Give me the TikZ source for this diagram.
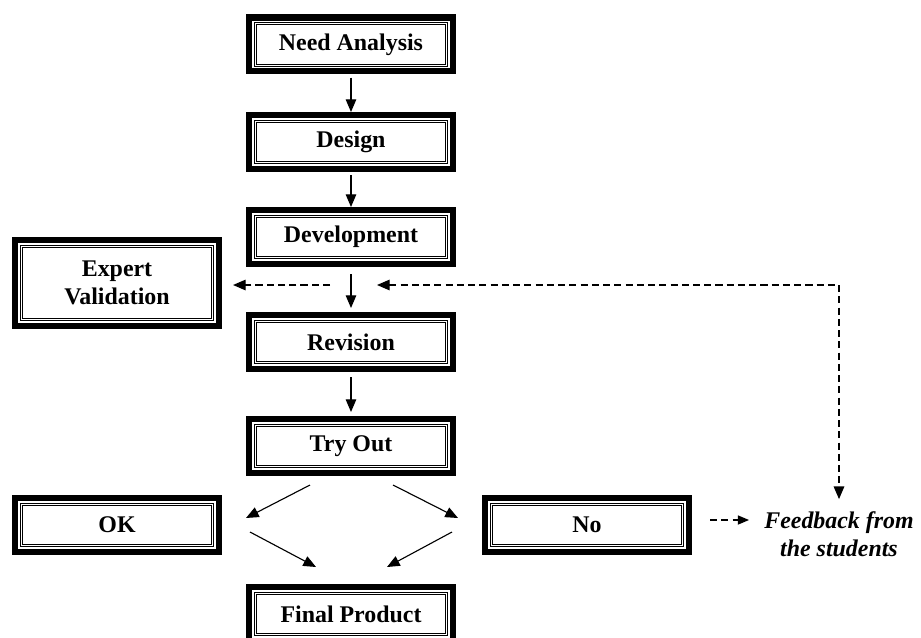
\documentclass[tikz,border=0pt]{standalone}
\usepackage{fontspec}
\setmainfont{Liberation Serif}
\usetikzlibrary{arrows.meta}

\begin{document}
\begin{tikzpicture}[
    stage/.style={draw, line width=4.6pt, inner sep=0pt,
      minimum width=5.09cm, minimum height=1.34cm, align=center,
      font=\fontsize{17}{20}\selectfont\bfseries,
      path picture={\draw[line width=0.7pt, double distance=0.7pt]
        ([shift={(0.15cm,-0.15cm)}]path picture bounding box.north west) rectangle
        ([shift={(-0.15cm,0.15cm)}]path picture bounding box.south east);}},
    flow/.style={line width=0.8pt, -{Triangle[length=9pt,width=7.5pt]}},
    fbline/.style={line width=0.9pt, dash pattern=on 5pt off 3pt}
  ]
  \useasboundingbox (0,0) rectangle (23.025,-15.925);

  % main line of stages
  \node[stage] (need) at (8.775,-1.11) {Need Analysis};
  \node[stage] (design) at (8.775,-3.55) {Design};
  \node[stage] (dev) at (8.775,-5.925) {Development};
  \node[stage] (revision) at (8.775,-8.55) {Revision};
  \node[stage] (tryout) at (8.775,-11.15) {Try Out};
  \node[stage] (final) at (8.775,-15.35) {Final Product};

  % side boxes
  \node[stage, minimum height=2.14cm] (expert) at (2.925,-7.075) {Expert\\Validation};
  \node[stage] (ok) at (2.925,-13.125) {OK};
  \node[stage] (no) at (14.675,-13.125) {No};
  \node[inner sep=0pt, align=center, font=\fontsize{17}{20}\selectfont\bfseries\itshape]
    (feedback) at (20.975,-13.35) {Feedback from\\the students};

  \coordinate (evout) at (8.25,-7.125);
  \coordinate (evin) at (9.425,-7.125);

  \draw[flow, shorten <=0.08cm] (need) -- (design);
  \draw[flow, shorten <=0.08cm] (design) -- (dev);
  \draw[flow, shorten <=0.175cm, shorten >=0.1cm] (dev) -- (revision);
  \draw[flow, shorten <=0.125cm, shorten >=0.1cm] (revision) -- (tryout);

  % validation and feedback loop
  \draw[fbline, -{Triangle[length=9pt,width=7.5pt]}, shorten >=0.275cm] (evout) -- (evout -| expert.east);
  \draw[fbline, {Triangle[length=9pt,width=7.5pt]}-{Triangle[length=9pt,width=7.5pt]}, shorten >=0.3cm]
    (evin) -- (evin -| feedback.north) -- (feedback.north);
  \draw[fbline, -{Triangle[length=8pt,width=6.5pt]}, shorten <=0.45cm, shorten >=0.375cm]
    ([yshift=0.125cm]no.east) -- ([yshift=0.125cm]no.east -| feedback.west);

  % try out splits into ok / no, both lead to the final product
  \coordinate (t1) at (7.75,-12.125);
  \coordinate (t2) at (9.825,-12.125);
  \coordinate (okin) at (6.15,-12.95);
  \coordinate (noin) at (11.45,-12.95);
  \coordinate (okout) at (6.25,-13.3);
  \coordinate (noout) at (11.3,-13.3);
  \coordinate (f1) at (7.9,-14.175);
  \coordinate (f2) at (9.675,-14.175);
  \draw[flow] (t1) -- (okin);
  \draw[flow] (t2) -- (noin);
  \draw[flow] (okout) -- (f1);
  \draw[flow] (noout) -- (f2);
\end{tikzpicture}
\end{document}
